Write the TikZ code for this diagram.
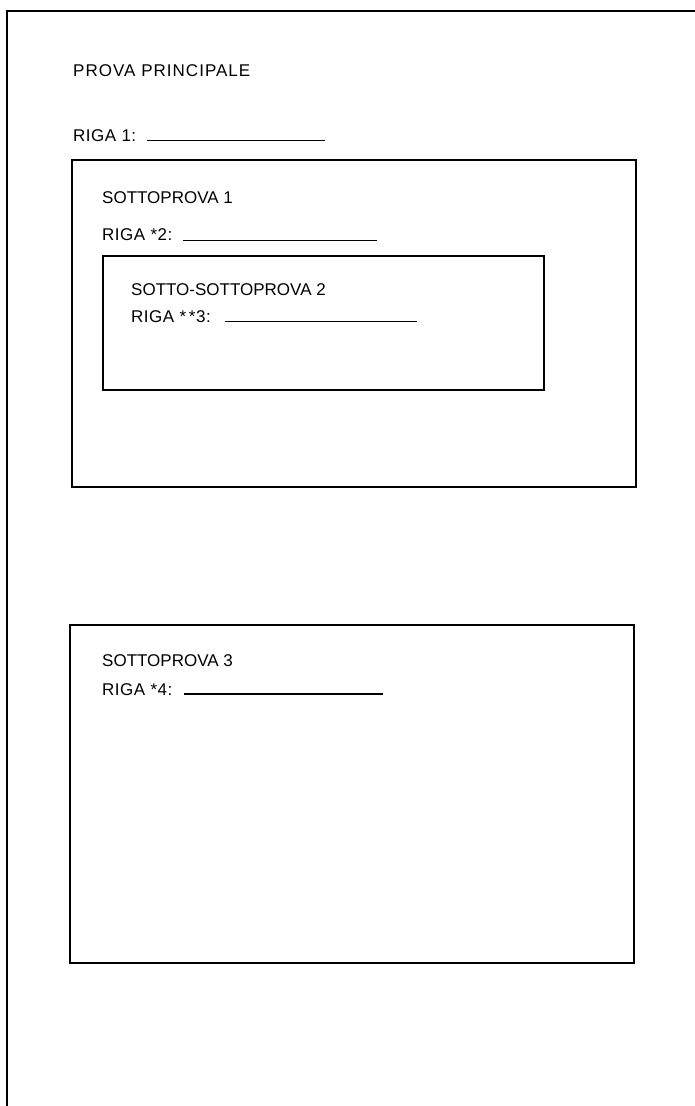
\documentclass[tikz,border=0pt]{standalone}
\usepackage{fontspec}
\setmainfont{Liberation Sans}
\newfontfamily\titlefont[LetterSpace=6]{Liberation Sans}
\newfontfamily\rigafont[LetterSpace=3]{Liberation Sans}
\begin{document}
\begin{tikzpicture}[x=1pt,y=-1pt,
  frame/.style={line width=1.6pt},
  lbl/.style={anchor=base west,inner sep=0pt,font=\fontsize{17}{20}\selectfont},
  riga/.style={lbl,font=\rigafont\fontsize{17}{20}\selectfont},
  blank/.style={line width=1.3pt}]
\useasboundingbox (0,0) rectangle (695,1106);
% outer frame (open on right and bottom)
\draw[frame] (7,1106) -- (7,11) -- (695,11);
% boxes
\draw[frame] (72,160) rectangle (636,487);
\draw[frame] (103,256) rectangle (544,390);
\draw[frame] (70,625) rectangle (634,963);
% texts
\node[lbl,font=\titlefont\fontsize{17}{20}\selectfont] (main) at (73,76) {PROVA PRINCIPALE};
\node[riga] (r1) at (73,141.5) {RIGA 1:};
\node[lbl] (s1) at (102,203.3) {SOTTOPROVA 1};
\node[riga] (r2) at (102,240) {RIGA *2:};
\node[lbl] (s2) at (131,295.7) {SOTTO-SOTTOPROVA 2};
\node[riga] (r3) at (131,322.7) {RIGA *\,*3:};
\node[lbl] (s3) at (102,666) {SOTTOPROVA 3};
\node[riga] (r4) at (102,695) {RIGA *4:};
% blanks
\draw[blank] (147,140.5) -- (325,140.5);
\draw[blank] (183,240.5) -- (377,240.5);
\draw[blank] (225,321.7) -- (417,321.7);
\draw[blank] (184,694) -- (383,694);
\end{tikzpicture}
\end{document}
